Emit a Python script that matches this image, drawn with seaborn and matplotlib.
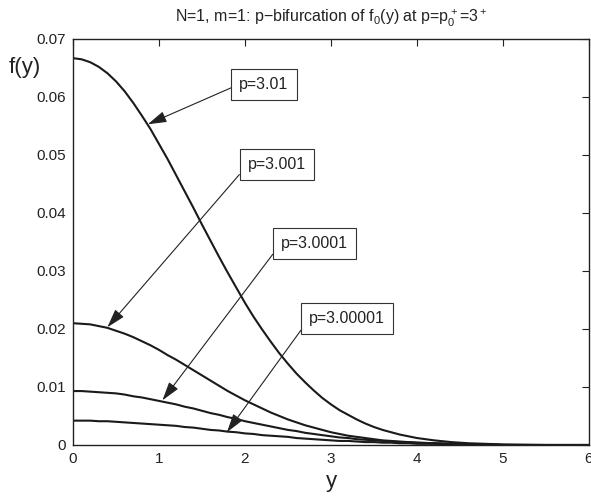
import matplotlib
matplotlib.use("Agg")
import matplotlib.pyplot as plt
import seaborn as sns
import pandas as pd

# ---- data ----
y_grid = [0.0, 0.1, 0.2, 0.3, 0.4, 0.5, 0.6, 0.7, 0.8, 0.9,
          1.0, 1.1, 1.2, 1.3, 1.4, 1.5, 1.6, 1.7, 1.8, 1.9,
          2.0, 2.1, 2.2, 2.3, 2.4, 2.5, 2.6, 2.7, 2.8, 2.9,
          3.0, 3.1, 3.2, 3.3, 3.4, 3.5, 3.6, 3.7, 3.8, 3.9,
          4.0, 4.2, 4.4, 4.6, 4.8, 5.0, 5.5, 6.0]
f_p3_01 = [0.0667, 0.0665, 0.0660, 0.0652, 0.0641, 0.0627, 0.0610, 0.0590, 0.0568, 0.0545,
           0.0519, 0.0493, 0.0465, 0.0437, 0.0409, 0.0380, 0.0352, 0.0324, 0.0297, 0.0271,
           0.0245, 0.0221, 0.0199, 0.0178, 0.0158, 0.0140, 0.0123, 0.0108, 0.0094, 0.0081,
           0.0070, 0.0060, 0.0052, 0.0044, 0.0037, 0.0031, 0.0026, 0.0022, 0.0018, 0.0015,
           0.0012, 0.0008, 0.0005, 0.0003, 0.0002, 0.0001, 0.0, 0.0]
f_p3_001 = [0.0210, 0.0209, 0.0208, 0.0205, 0.0202, 0.0197, 0.0192, 0.0186, 0.0179, 0.0172,
            0.0164, 0.0155, 0.0147, 0.0138, 0.0129, 0.0120, 0.0111, 0.0102, 0.0093, 0.0085,
            0.0077, 0.0070, 0.0063, 0.0056, 0.0050, 0.0044, 0.0039, 0.0034, 0.0030, 0.0026,
            0.0022, 0.0019, 0.0016, 0.0014, 0.0012, 0.0010, 0.0008, 0.0007, 0.0006, 0.0005,
            0.0004, 0.0003, 0.0002, 0.0001, 0.0001, 0.0, 0.0, 0.0]
f_p3_0001 = [0.0093, 0.0093, 0.0092, 0.0091, 0.0090, 0.0089, 0.0087, 0.0084, 0.0082, 0.0079,
             0.0076, 0.0073, 0.0070, 0.0066, 0.0063, 0.0059, 0.0055, 0.0052, 0.0048, 0.0045,
             0.0041, 0.0038, 0.0035, 0.0032, 0.0029, 0.0026, 0.0024, 0.0021, 0.0019, 0.0017,
             0.0015, 0.0013, 0.0012, 0.0010, 0.0009, 0.0008, 0.0007, 0.0006, 0.0005, 0.0005,
             0.0004, 0.0003, 0.0002, 0.0001, 0.0001, 0.0, 0.0, 0.0]
f_p3_00001 = [0.0042, 0.0042, 0.0042, 0.0041, 0.0041, 0.0040, 0.0039, 0.0038, 0.0037, 0.0036,
              0.0035, 0.0034, 0.0033, 0.0031, 0.0030, 0.0028, 0.0026, 0.0025, 0.0023, 0.0022,
              0.0020, 0.0019, 0.0017, 0.0016, 0.0015, 0.0014, 0.0012, 0.0011, 0.0010, 0.0009,
              0.0008, 0.0007, 0.0007, 0.0006, 0.0005, 0.0005, 0.0004, 0.0004, 0.0003, 0.0003,
              0.0002, 0.0002, 0.0001, 0.0001, 0.0, 0.0, 0.0, 0.0]
series_labels = ["p=3.01", "p=3.001", "p=3.0001", "p=3.00001"]
# annotation: (label text centre x, y) and (arrow tip x, y) in data units
label_pos = [(2.22, 0.0622), (2.37, 0.0483), (2.81, 0.0348), (3.19, 0.0218)]
arrow_tip = [(0.87, 0.0553), (0.40, 0.0203), (1.04, 0.0077), (1.79, 0.0022)]
x_ticks = [0, 1, 2, 3, 4, 5, 6]
y_ticks = [0, 0.01, 0.02, 0.03, 0.04, 0.05, 0.06, 0.07]
y_tick_labels = ["0", "0.01", "0.02", "0.03", "0.04", "0.05", "0.06", "0.07"]

# ---- style ----
sns.set_theme(style="white")
plt.rcParams["font.family"] = ["Liberation Sans", "DejaVu Sans"]
plt.rcParams["mathtext.default"] = "regular"
plt.rcParams.update({
    "xtick.direction": "in", "ytick.direction": "in",
    "xtick.top": True, "ytick.right": True,
    "xtick.major.size": 5, "ytick.major.size": 5,
    "xtick.major.width": 0.8, "ytick.major.width": 0.8,
    "xtick.color": "#222222", "ytick.color": "#222222",
    "axes.edgecolor": "#222222", "axes.linewidth": 1.0,
})

frames = []
for lab, vals in zip(series_labels, [f_p3_01, f_p3_001, f_p3_0001, f_p3_00001]):
    frames.append(pd.DataFrame({"y": y_grid, "f": vals, "p": lab}))
df = pd.concat(frames, ignore_index=True)

fig = plt.figure(figsize=(5.91, 5.0), dpi=100)
ax = fig.add_axes([0.1235, 0.11, 0.8731, 0.812])
sns.lineplot(data=df, x="y", y="f", hue="p", units="p", estimator=None,
             palette=["#1a1a1a"] * 4, linewidth=1.5, legend=False, ax=ax)

ax.set_xlim(0, 6)
ax.set_ylim(0, 0.07)
ax.set_xticks(x_ticks)
ax.set_xticklabels([str(t) for t in x_ticks], fontsize=11)
ax.set_yticks(y_ticks)
ax.set_yticklabels(y_tick_labels, fontsize=11)
ax.tick_params(axis="both", pad=5, labelcolor="#222222")
for s in ax.spines.values():
    s.set_visible(True)

ax.set_xlabel("y", fontsize=16, color="#222222", labelpad=4)
ax.set_ylabel("f(y)", fontsize=16, rotation=0, color="#222222")
ax.yaxis.set_label_coords(-0.093, 0.905)
ax.set_title(r"N=1, m=1: p$-$bifurcation of f$_0$(y) at p=p$_0^+$=3$^+$",
             fontsize=11.5, color="#222222", pad=12)

for lab, (tx, ty), (ax_, ay) in zip(series_labels, label_pos, arrow_tip):
    ax.annotate(lab, xy=(ax_, ay), xytext=(tx, ty), ha="center", va="center",
                fontsize=11.5, color="#222222",
                bbox=dict(boxstyle="square,pad=0.5", fc="white", ec="#333333", lw=0.8),
                arrowprops=dict(arrowstyle="-|>,head_length=1.0,head_width=0.3",
                                color="#222222", lw=0.8, relpos=(0, 0.5),
                                shrinkA=0, shrinkB=0))

fig.savefig("out.png", dpi=100)
